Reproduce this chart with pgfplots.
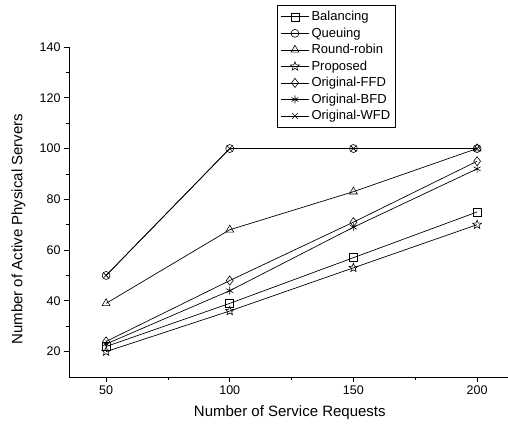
\documentclass[border=0pt]{standalone}
\usepackage{fontspec}
\setmainfont{Liberation Sans}
\usepackage{pgfplots}
\pgfplotsset{compat=1.18}
\pgfdeclareplotmark{ostar}{%
  \pgfpathmoveto{\pgfpointpolar{90}{1.15\pgfplotmarksize}}%
  \pgfpathlineto{\pgfpointpolar{126}{0.5\pgfplotmarksize}}%
  \pgfpathlineto{\pgfpointpolar{162}{1.15\pgfplotmarksize}}%
  \pgfpathlineto{\pgfpointpolar{198}{0.5\pgfplotmarksize}}%
  \pgfpathlineto{\pgfpointpolar{234}{1.15\pgfplotmarksize}}%
  \pgfpathlineto{\pgfpointpolar{270}{0.5\pgfplotmarksize}}%
  \pgfpathlineto{\pgfpointpolar{306}{1.15\pgfplotmarksize}}%
  \pgfpathlineto{\pgfpointpolar{342}{0.5\pgfplotmarksize}}%
  \pgfpathlineto{\pgfpointpolar{18}{1.15\pgfplotmarksize}}%
  \pgfpathlineto{\pgfpointpolar{54}{0.5\pgfplotmarksize}}%
  \pgfpathclose\pgfusepathqstroke}
\begin{document}
\begin{tikzpicture}
\begin{axis}[
  name=ax,
  scale only axis, width=439pt, height=330pt,
  xmin=35, xmax=212.5, ymin=10, ymax=140,
  axis x line=bottom, axis y line=left, axis line style={-, line width=0.9pt},
  xtick={50,100,150,200}, minor xtick={75,125,175},
  ytick={20,40,...,140}, minor ytick={30,50,...,130},
  tick align=outside, major tick length=5pt, minor tick length=3pt,
  tick style={black, line width=0.8pt},
  /pgf/number format/assume math mode=true,
  tick label style={font=\fontsize{12.5}{14}\selectfont},
  label style={font=\fontsize{15}{17}\selectfont},
  xlabel={Number of Service Requests},
  ylabel={Number of Active Physical Servers},
  xlabel style={at={(axis description cs:0.503,-0.109)}, anchor=center},
  ylabel style={at={(axis description cs:-0.115,0.448)}, anchor=center, rotate=0},
  legend style={at={(0.474,1.127)}, anchor=north west, draw=black, line width=0.6pt,
    font=\fontsize{13}{14}\selectfont, row sep=1.6pt, inner xsep=3pt, inner ysep=4pt},
  legend cell align=left,
  legend image code/.code={\draw[mark repeat=2,mark phase=2] plot coordinates {(0cm,0cm)(0.5cm,0cm)(1.0cm,0cm)};},
]
\pgfplotsset{myline/.style={black, solid, line width=0.7pt, mark size=4pt, mark options={solid, fill=none, line width=0.6pt}}}
\addplot[myline, mark=square] coordinates {(50,22) (100,39) (150,57) (200,75)};
\addlegendentry{Balancing}
\addplot[myline, mark=o] coordinates {(50,50) (100,100) (150,100) (200,100)};
\addlegendentry{Queuing}
\addplot[myline, mark=triangle, mark size=4.6pt] coordinates {(50,39) (100,68) (150,83) (200,100)};
\addlegendentry{Round-robin}
\addplot[myline, mark=ostar] coordinates {(50,20) (100,36) (150,53) (200,70)};
\addlegendentry{Proposed}
\addplot[myline, mark=diamond, mark size=4.6pt] coordinates {(50,24) (100,48) (150,71) (200,95)};
\addlegendentry{Original-FFD}
\addplot[myline, mark=asterisk] coordinates {(50,23) (100,44) (150,69) (200,92)};
\addlegendentry{Original-BFD}
\addplot[myline, mark=x] coordinates {(50,50) (100,100) (150,100) (200,100)};
\addlegendentry{Original-WFD}
\end{axis}
\pgfresetboundingbox
\path (ax.south west) ++(-69pt,-58pt) rectangle ++(508pt,435pt);
\end{tikzpicture}
\end{document}
